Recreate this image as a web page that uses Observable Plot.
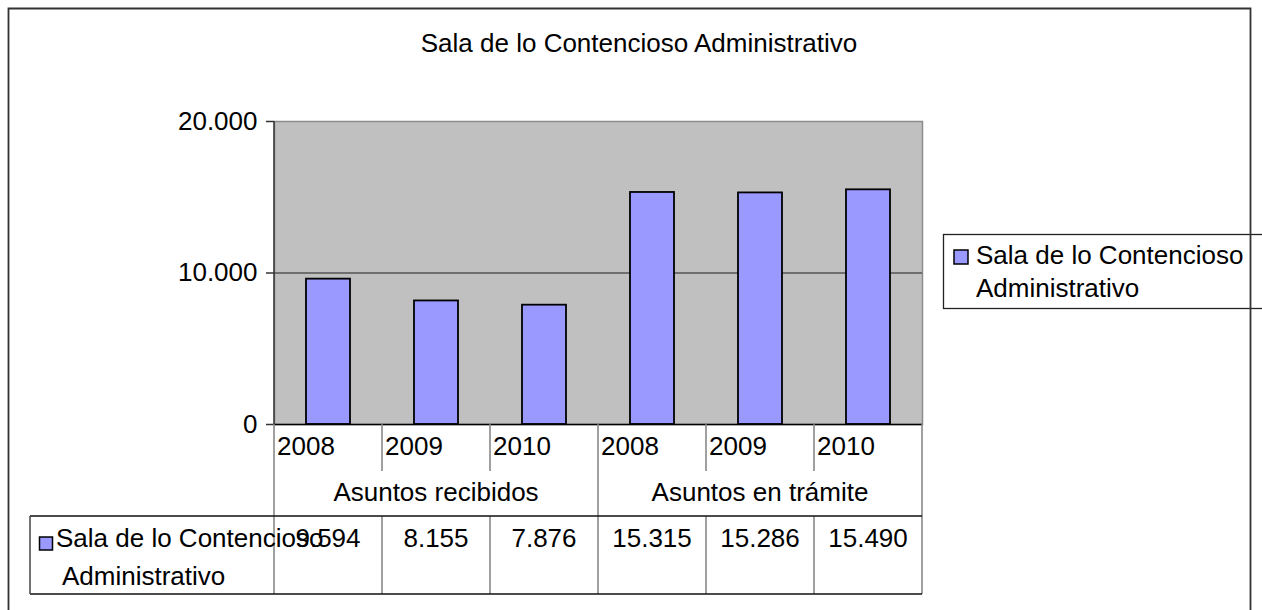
<!DOCTYPE html>
<html><head><meta charset="utf-8">
<script src="https://cdn.jsdelivr.net/npm/d3@7"></script>
<script src="https://cdn.jsdelivr.net/npm/@observablehq/plot@0.6"></script>
<style>
html,body{margin:0;padding:0;background:#fff;}
#chart{position:relative;width:1262px;height:610px;overflow:hidden;}
#chart svg{display:block;font-family:"Liberation Sans",Arial,sans-serif;}
</style></head><body><div id="chart"></div>
<script>
const title = "Sala de lo Contencioso Administrativo";
const seriesLines = ["Sala de lo Contencioso", "Administrativo"];
const groupNames = ["Asuntos recibidos", "Asuntos en trámite"];
const groups = ["Asuntos recibidos","Asuntos recibidos","Asuntos recibidos","Asuntos en trámite","Asuntos en trámite","Asuntos en trámite"];
const years = ["2008","2009","2010","2008","2009","2010"];
const values = [9594, 8155, 7876, 15315, 15286, 15490];
const yTicks = [0, 10000, 20000];

const data = values.map((v, i) => ({key: groups[i] + "|" + years[i], group: groups[i], year: years[i], value: v}));
const fmt = d3.formatLocale({decimal: ",", thousands: ".", grouping: [3], currency: ["", "€"]}).format(",d");

const W = 1262, H = 610, mL = 274, mR = 340, mT = 121, mB = 186;
const pI = 0.59, pO = pI / 2;
const FS = 26;
const FONT = "Liberation Sans, Arial, sans-serif";

const plot = Plot.plot({
  width: W, height: H, marginLeft: mL, marginRight: mR, marginTop: mT, marginBottom: mB,
  style: {fontFamily: FONT, fontSize: FS + "px", color: "#000", background: "transparent", overflow: "visible"},
  x: {domain: data.map(d => d.key), paddingInner: pI, paddingOuter: pO, axis: null},
  y: {domain: [0, 20000], axis: null},
  marks: [
    Plot.frame({fill: "#c0c0c0", stroke: "#8c8c8c", strokeWidth: 1.5}),
    Plot.ruleY([10000], {stroke: "#555", strokeWidth: 1.5}),
    Plot.barY(data, {x: "key", y: "value", fill: "#9999ff", stroke: "#000", strokeWidth: 1.8, inset: 0}),
    Plot.ruleY([0], {stroke: "#000", strokeWidth: 1.5}),
    Plot.axisY({ticks: yTicks, tickFormat: fmt, tickSize: 8, tickPadding: 9, fontSize: FS, stroke: "#333", strokeWidth: 1.5, fill: "#000", label: null})
  ]
});

document.getElementById("chart").appendChild(plot);
const svg = d3.select(plot);
const xs = plot.scale("x");
const ys = plot.scale("y");
const step = xs.step !== undefined ? xs.step : xs.bandwidth / (1 - pI);
const padHalf = (step - xs.bandwidth) / 2;
const cellL = k => xs.apply(k) - padHalf;

const y0 = ys.apply(0), yTop = ys.apply(20000);
// left axis line
svg.append("line").attr("x1", mL).attr("x2", mL).attr("y1", yTop).attr("y2", y0)
  .attr("stroke", "#333").attr("stroke-width", 1.5);

// table geometry
const rowYearBottom = y0 + 47, rowGroupBottom = y0 + 92, rowValBottom = y0 + 170;
const tableLeft = 30;
const g = svg.append("g").attr("font-family", FONT).attr("font-size", FS).attr("fill", "#000").attr("text-anchor", "start");

const keys = data.map(d => d.key);
const bounds = keys.map(cellL).concat([cellL(keys[keys.length - 1]) + step]);
bounds.forEach((bx, i) => {
  const isGroupEdge = (i === 0 || i === 3 || i === 6);
  if (isGroupEdge) {
    g.append("line").attr("x1", bx).attr("x2", bx).attr("y1", y0).attr("y2", rowValBottom).attr("stroke", "#808080").attr("stroke-width", 1.5);
  } else {
    g.append("line").attr("x1", bx).attr("x2", bx).attr("y1", y0).attr("y2", rowYearBottom).attr("stroke", "#808080").attr("stroke-width", 1.5);
    g.append("line").attr("x1", bx).attr("x2", bx).attr("y1", rowGroupBottom).attr("y2", rowValBottom).attr("stroke", "#808080").attr("stroke-width", 1.5);
  }
});
const tableRight = bounds[bounds.length - 1];
[rowGroupBottom, rowValBottom].forEach(yy => {
  g.append("line").attr("x1", tableLeft).attr("x2", tableRight).attr("y1", yy).attr("y2", yy).attr("stroke", "#111").attr("stroke-width", 1.5);
});
g.append("line").attr("x1", tableLeft).attr("x2", tableLeft).attr("y1", rowGroupBottom).attr("y2", rowValBottom).attr("stroke", "#444").attr("stroke-width", 1.5);

// row legend key in table (drawn before values so values overlap it as in reference)
g.append("rect").attr("x", 39.5).attr("y", y0 + 113).attr("width", 13).attr("height", 13)
  .attr("fill", "#9999ff").attr("stroke", "#000").attr("stroke-width", 1.5);
g.append("text").attr("x", 56).attr("y", y0 + 123).attr("text-anchor", "start").text(seriesLines[0]);
g.append("text").attr("x", 62).attr("y", y0 + 161).attr("text-anchor", "start").text(seriesLines[1]);

// year labels and values
data.forEach(d => {
  g.append("text").attr("x", cellL(d.key) + 3).attr("y", y0 + 31).attr("text-anchor", "start").text(d.year);
  g.append("text").attr("x", cellL(d.key) + step / 2).attr("y", y0 + 123).attr("text-anchor", "middle").text(fmt(d.value));
});
// group labels
groupNames.forEach(name => {
  const ks = data.filter(d => d.group === name).map(d => d.key);
  const l = cellL(ks[0]), r = cellL(ks[ks.length - 1]) + step;
  g.append("text").attr("x", (l + r) / 2).attr("y", y0 + 77).attr("text-anchor", "middle").text(name);
});

// legend on right
const lg = svg.append("g").attr("font-family", FONT).attr("font-size", FS).attr("fill", "#000").attr("text-anchor", "start");
lg.append("rect").attr("x", 943.5).attr("y", 234.5).attr("width", 320).attr("height", 74)
  .attr("fill", "#fff").attr("stroke", "#222").attr("stroke-width", 1.3);
lg.append("rect").attr("x", 954).attr("y", 250).attr("width", 14).attr("height", 14)
  .attr("fill", "#9999ff").attr("stroke", "#000").attr("stroke-width", 1.5);
lg.append("text").attr("x", 976).attr("y", 264).attr("text-anchor", "start").text(seriesLines[0]);
lg.append("text").attr("x", 976).attr("y", 297).attr("text-anchor", "start").text(seriesLines[1]);

// title
svg.append("text").attr("x", 639).attr("y", 52).attr("text-anchor", "middle")
  .attr("font-family", FONT).attr("font-size", FS).attr("fill", "#000").text(title);

// outer border (left, top, right)
svg.append("path").attr("d", "M8.5,620 V8.5 H1250.5 V620").attr("fill", "none").attr("stroke", "#333").attr("stroke-width", 1.8);
</script></body></html>
